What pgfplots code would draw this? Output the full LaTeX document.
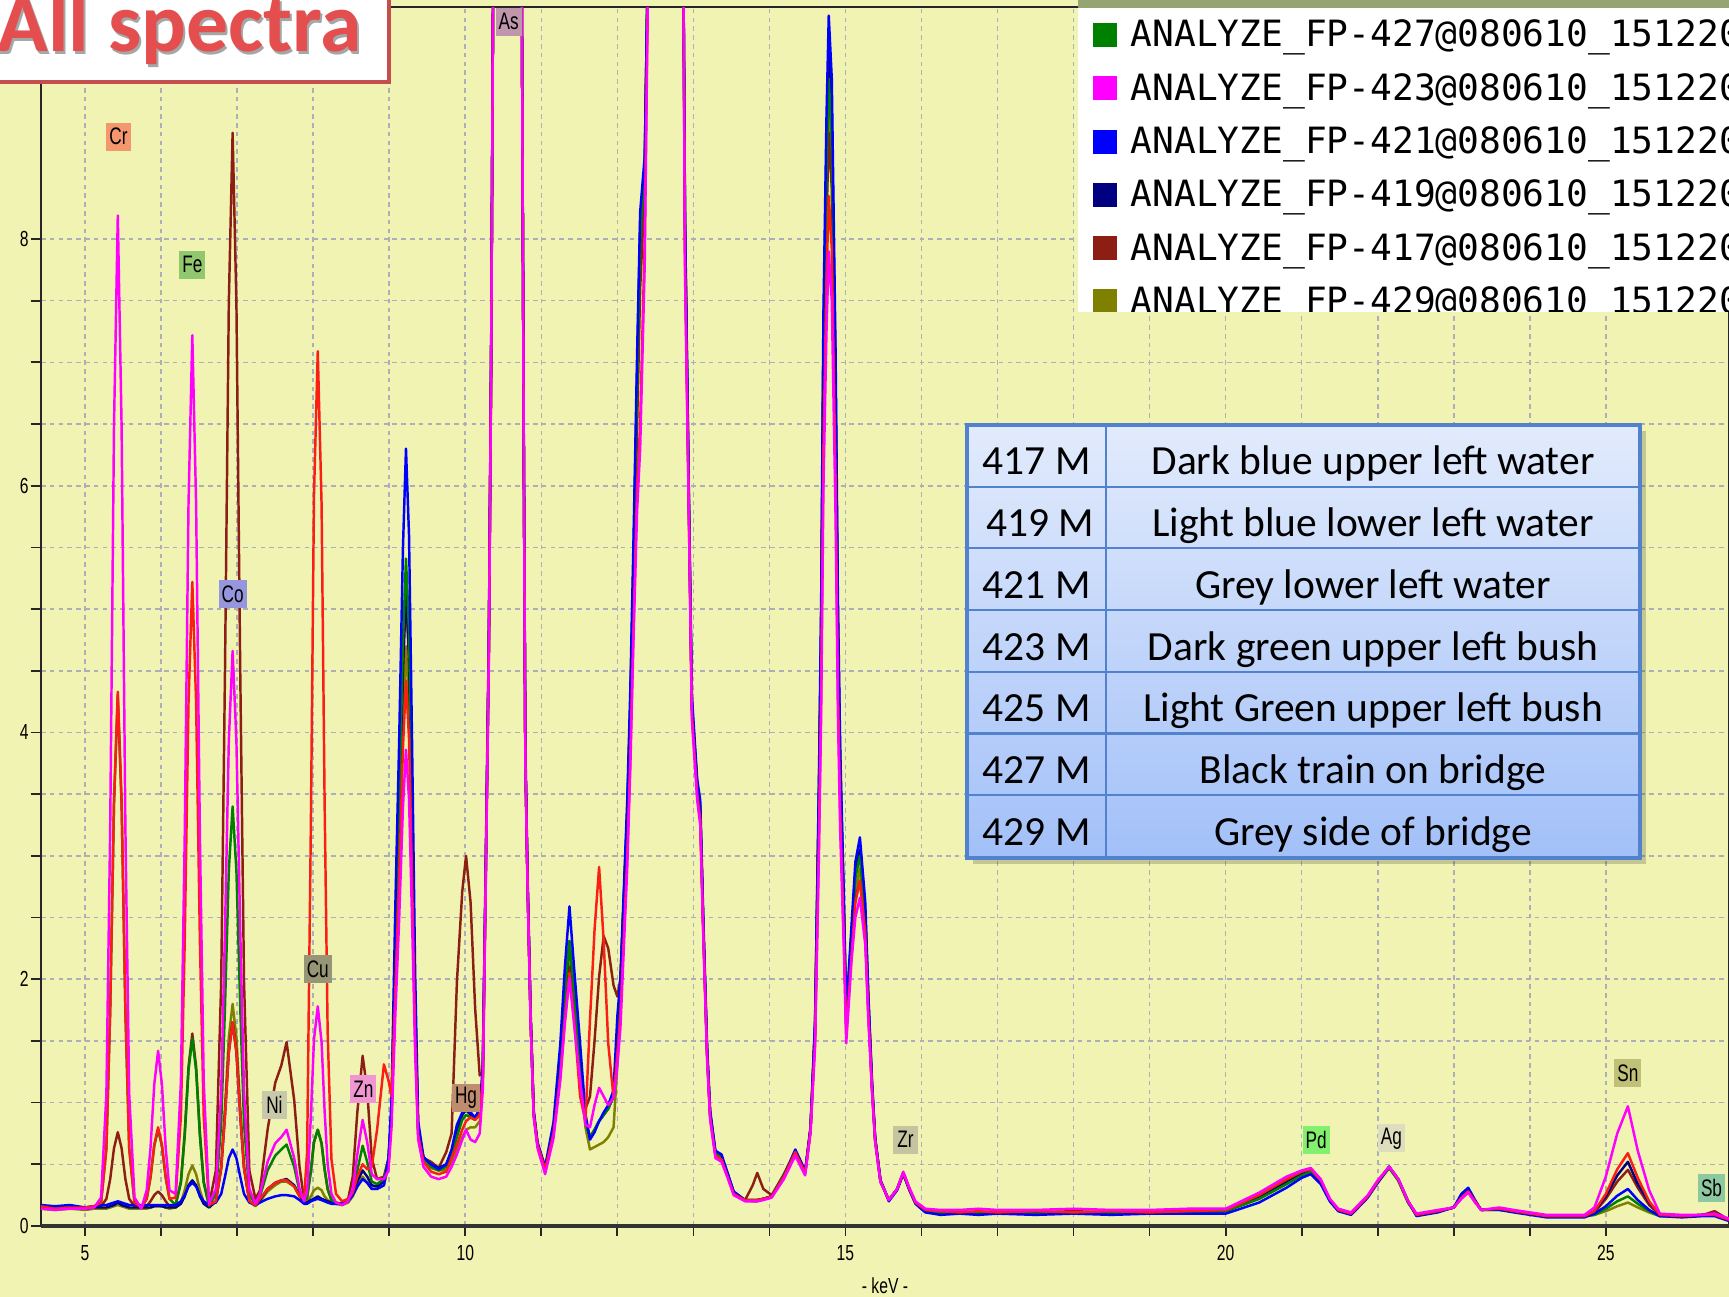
\documentclass[border=0pt]{standalone}
\usepackage{fontspec}
\setmainfont{Liberation Sans}
\newfontfamily\carlito{Carlito}
\newfontfamily\narrow[FakeStretch=0.72]{Liberation Sans}
\newfontfamily\legmono{DejaVu Sans Mono}
\usepackage{pgfplots}
\usepackage{pgfplotstable}
\pgfplotsset{compat=1.18}

\definecolor{bgc}{RGB}{240,243,178}
\definecolor{gridc}{RGB}{172,174,186}
\definecolor{s425}{RGB}{250,30,20}
\definecolor{s423}{RGB}{255,0,255}
\definecolor{s417}{RGB}{140,30,20}
\definecolor{s427}{RGB}{0,128,0}
\definecolor{s429}{RGB}{128,128,0}
\definecolor{s421}{RGB}{0,0,255}
\definecolor{s419}{RGB}{0,0,128}
\definecolor{titlered}{RGB}{196,78,78}
\definecolor{titletext}{RGB}{228,78,78}
\definecolor{legband}{RGB}{150,163,115}
\definecolor{tabtop}{RGB}{226,235,252}
\definecolor{tabbot}{RGB}{162,192,248}
\definecolor{tabline}{RGB}{82,130,206}
% element label fills
\definecolor{eCr}{RGB}{244,150,110}
\definecolor{eFe}{RGB}{145,200,110}
\definecolor{eCo}{RGB}{150,150,222}
\definecolor{eNi}{RGB}{200,200,170}
\definecolor{eCu}{RGB}{150,150,118}
\definecolor{eZn}{RGB}{240,150,210}
\definecolor{eHg}{RGB}{190,140,110}
\definecolor{eAs}{RGB}{192,150,172}
\definecolor{eZr}{RGB}{196,196,160}
\definecolor{ePd}{RGB}{130,240,110}
\definecolor{eAg}{RGB}{222,222,190}
\definecolor{eSn}{RGB}{192,192,120}
\definecolor{eSb}{RGB}{140,200,160}

\newcommand\tickfont{\narrow\fontsize{6.2}{7}\selectfont}
\newcommand\elfont{\narrow\fontsize{6.8}{7.5}\selectfont}
\tikzset{elab/.style={font=\elfont, inner sep=0.03cm, minimum height=0.28cm, minimum width=0.25cm, text=black}}

% columns: keV, then 425 (red), 423, 417, 427, 429, 421, 419
\pgfplotstableread{
x r m mr g o b n
4.42 0.16 0.14 0.15 0.15 0.14 0.17 0.15
4.60 0.14 0.13 0.14 0.15 0.13 0.16 0.14
4.80 0.15 0.14 0.15 0.14 0.14 0.17 0.15
5.00 0.15 0.14 0.14 0.15 0.13 0.15 0.14
5.12 0.16 0.15 0.15 0.16 0.14 0.16 0.15
5.21 0.19 0.23 0.16 0.19 0.14 0.17 0.15
5.28 0.63 1.07 0.22 0.63 0.14 0.17 0.15
5.33 1.75 3.22 0.38 1.74 0.15 0.18 0.16
5.38 3.44 6.48 0.63 3.42 0.16 0.19 0.17
5.43 4.33 8.19 0.76 4.30 0.17 0.20 0.19
5.48 3.44 6.48 0.63 3.42 0.16 0.19 0.17
5.53 1.75 3.22 0.38 1.74 0.15 0.18 0.16
5.58 0.63 1.07 0.22 0.63 0.14 0.17 0.15
5.65 0.19 0.23 0.16 0.19 0.14 0.17 0.15
5.74 0.15 0.14 0.15 0.15 0.14 0.17 0.15
5.81 0.22 0.29 0.16 0.22 0.14 0.17 0.15
5.86 0.40 0.63 0.20 0.39 0.15 0.17 0.15
5.91 0.66 1.15 0.25 0.65 0.16 0.17 0.16
5.96 0.80 1.42 0.28 0.78 0.16 0.17 0.16
6.01 0.66 1.15 0.25 0.65 0.16 0.17 0.16
6.06 0.40 0.63 0.20 0.39 0.15 0.17 0.15
6.11 0.22 0.29 0.16 0.22 0.14 0.17 0.15
6.19 0.23 0.26 0.17 0.17 0.15 0.17 0.15
6.26 0.89 1.17 0.36 0.35 0.19 0.20 0.18
6.31 2.30 3.15 0.75 0.73 0.29 0.25 0.24
6.36 4.24 5.85 1.29 1.26 0.42 0.32 0.33
6.41 5.22 7.22 1.56 1.52 0.49 0.35 0.37
6.46 4.24 5.85 1.29 1.26 0.42 0.32 0.33
6.51 2.30 3.15 0.75 0.73 0.29 0.25 0.24
6.56 0.89 1.17 0.36 0.35 0.19 0.20 0.18
6.63 0.17 0.18 0.17 0.16 0.15 0.17 0.15
6.72 0.20 0.30 0.45 0.26 0.20 0.19 0.20
6.79 0.47 1.09 1.98 0.83 0.49 0.26 0.47
6.84 0.90 2.40 4.51 1.78 0.97 0.40 0.90
6.89 1.41 3.93 7.48 2.88 1.53 0.55 1.41
6.94 1.65 4.66 8.86 3.40 1.80 0.62 1.65
6.99 1.41 3.93 7.48 2.88 1.53 0.55 1.41
7.04 0.90 2.40 4.51 1.78 0.97 0.40 0.90
7.09 0.47 1.09 1.98 0.83 0.49 0.26 0.47
7.16 0.20 0.30 0.45 0.26 0.20 0.19 0.20
7.24 0.17 0.18 0.22 0.17 0.16 0.17 0.17
7.30 0.22 0.26 0.29 0.24 0.20 0.19 0.21
7.40 0.30 0.52 0.78 0.45 0.28 0.22 0.30
7.50 0.35 0.67 1.16 0.57 0.33 0.24 0.35
7.58 0.37 0.72 1.30 0.62 0.36 0.25 0.37
7.65 0.37 0.78 1.49 0.66 0.36 0.25 0.38
7.75 0.32 0.55 1.02 0.48 0.32 0.24 0.33
7.82 0.24 0.30 0.48 0.28 0.24 0.21 0.25
7.88 0.22 0.20 0.21 0.20 0.19 0.18 0.19
7.92 0.60 0.28 0.24 0.23 0.20 0.18 0.19
7.97 3.30 0.90 0.45 0.45 0.24 0.20 0.21
8.01 5.92 1.51 0.68 0.68 0.29 0.21 0.22
8.06 7.09 1.78 0.78 0.78 0.31 0.22 0.24
8.11 5.85 1.49 0.67 0.67 0.29 0.21 0.22
8.15 3.43 0.93 0.46 0.46 0.24 0.20 0.21
8.19 1.57 0.50 0.30 0.30 0.21 0.19 0.20
8.24 0.54 0.26 0.21 0.21 0.19 0.18 0.19
8.30 0.26 0.19 0.19 0.19 0.18 0.18 0.18
8.38 0.20 0.17 0.18 0.17 0.17 0.18 0.18
8.46 0.22 0.20 0.22 0.20 0.19 0.20 0.21
8.52 0.27 0.30 0.40 0.28 0.24 0.25 0.27
8.58 0.40 0.58 0.92 0.45 0.32 0.32 0.36
8.65 0.50 0.86 1.38 0.65 0.40 0.38 0.45
8.71 0.46 0.68 1.10 0.52 0.35 0.35 0.40
8.77 0.48 0.42 0.55 0.36 0.30 0.30 0.33
8.84 0.78 0.38 0.38 0.34 0.30 0.30 0.32
8.93 1.31 0.38 0.40 0.38 0.33 0.33 0.36
8.99 1.18 0.45 0.55 0.52 0.48 0.55 0.52
9.03 1.05 0.80 0.92 0.94 0.88 1.02 0.92
9.08 1.91 1.71 2.17 2.27 2.01 2.59 2.19
9.13 2.81 2.48 3.23 3.40 2.98 3.92 3.27
9.18 3.87 3.39 4.48 4.72 4.11 5.49 4.54
9.22 4.42 3.86 5.13 5.41 4.70 6.30 5.20
9.26 3.95 3.46 4.57 4.82 4.20 5.60 4.64
9.30 2.81 2.48 3.23 3.40 2.98 3.92 3.27
9.34 1.56 1.41 1.75 1.83 1.63 2.07 1.77
9.38 0.74 0.70 0.78 0.79 0.75 0.85 0.78
9.45 0.52 0.48 0.55 0.55 0.54 0.56 0.55
9.55 0.44 0.40 0.52 0.48 0.47 0.50 0.50
9.65 0.42 0.38 0.47 0.45 0.45 0.46 0.47
9.75 0.44 0.40 0.60 0.48 0.45 0.50 0.50
9.82 0.55 0.48 0.75 0.58 0.52 0.62 0.60
9.89 0.66 0.58 1.98 0.72 0.62 0.82 0.78
9.96 0.78 0.70 2.71 0.86 0.72 0.92 0.90
10.01 0.85 0.78 3.00 0.90 0.78 0.95 0.94
10.07 0.88 0.70 2.62 0.88 0.80 0.92 0.90
10.13 0.86 0.68 1.76 0.86 0.80 0.88 0.88
10.19 0.90 0.75 1.22 0.92 0.85 0.95 0.94
10.23 1.20 1.10 1.25 1.20 1.15 1.30 1.22
10.27 2.90 2.80 2.90 2.90 2.85 3.00 2.90
10.31 4.70 4.60 4.70 4.70 4.65 4.80 4.70
10.34 7.00 6.90 7.00 7.00 6.95 7.10 7.00
10.37 10.5 10.5 10.5 10.5 10.5 10.5 10.5
10.56 20.0 20.0 20.0 20.0 20.0 20.0 20.0
10.74 10.5 10.5 10.5 10.5 10.5 10.5 10.5
10.77 6.20 6.15 6.20 6.20 6.20 6.30 6.20
10.79 3.80 3.75 3.80 3.80 3.80 3.90 3.80
10.82 2.75 2.70 2.75 2.75 2.75 2.80 2.75
10.86 1.67 1.62 1.67 1.67 1.67 1.72 1.67
10.90 0.91 0.88 0.91 0.91 0.91 0.94 0.91
10.95 0.66 0.63 0.66 0.66 0.66 0.68 0.66
11.05 0.46 0.42 0.46 0.47 0.46 0.48 0.46
11.16 0.75 0.71 0.76 0.79 0.77 0.84 0.79
11.25 1.22 1.18 1.25 1.35 1.30 1.48 1.35
11.31 1.68 1.64 1.72 1.88 1.80 2.10 1.88
11.37 2.05 2.01 2.10 2.31 2.20 2.59 2.31
11.43 1.68 1.64 1.72 1.88 1.80 2.10 1.88
11.51 1.05 1.18 1.25 1.35 1.30 1.48 1.35
11.58 0.85 0.82 0.95 0.85 0.80 0.91 0.85
11.64 1.67 0.80 1.05 0.72 0.62 0.70 0.72
11.70 2.40 0.98 1.50 0.78 0.64 0.76 0.78
11.76 2.91 1.12 2.02 0.85 0.66 0.85 0.85
11.82 2.31 1.05 2.35 0.90 0.68 0.92 0.90
11.88 1.48 0.98 2.25 0.95 0.72 0.98 0.95
11.95 1.04 1.04 1.95 1.05 0.80 1.10 1.05
12.00 1.40 1.30 1.86 1.55 1.30 1.70 1.55
12.04 1.70 1.60 2.00 1.95 1.80 2.00 1.95
12.13 3.00 2.90 3.30 3.35 3.20 3.45 3.35
12.17 3.80 3.70 4.10 4.20 4.00 4.34 4.20
12.21 4.80 4.70 5.10 5.30 5.10 5.49 5.30
12.26 6.00 5.80 6.50 6.80 6.60 7.08 6.90
12.30 6.50 6.30 7.60 8.00 7.80 8.22 8.10
12.36 8.00 7.80 8.40 8.60 8.50 8.67 8.60
12.42 11.0 11.0 11.0 11.0 11.0 11.0 11.0
12.65 14.0 14.0 14.0 14.0 14.0 14.0 14.0
12.86 11.0 11.0 11.0 11.0 11.0 11.0 11.0
12.89 7.80 7.70 8.00 8.10 8.00 8.20 8.10
12.94 5.80 5.75 5.85 5.90 5.85 5.95 5.90
12.98 4.15 4.10 4.20 4.22 4.20 4.30 4.22
13.05 3.50 3.45 3.55 3.58 3.55 3.62 3.58
13.09 3.30 3.25 3.35 3.39 3.35 3.45 3.39
13.13 2.38 2.35 2.42 2.44 2.42 2.50 2.44
13.18 1.38 1.35 1.40 1.42 1.40 1.46 1.42
13.22 0.88 0.86 0.90 0.91 0.90 0.94 0.91
13.29 0.57 0.55 0.58 0.59 0.58 0.61 0.59
13.37 0.54 0.52 0.55 0.56 0.55 0.58 0.56
13.45 0.40 0.39 0.41 0.42 0.41 0.43 0.42
13.53 0.26 0.25 0.27 0.27 0.27 0.28 0.27
13.68 0.21 0.20 0.21 0.21 0.21 0.21 0.21
13.78 0.21 0.20 0.33 0.21 0.20 0.21 0.21
13.84 0.21 0.20 0.43 0.21 0.20 0.21 0.21
13.92 0.22 0.21 0.30 0.22 0.22 0.22 0.22
14.03 0.24 0.23 0.25 0.24 0.24 0.24 0.24
14.19 0.40 0.38 0.42 0.41 0.40 0.40 0.41
14.34 0.60 0.57 0.61 0.60 0.60 0.62 0.60
14.47 0.43 0.41 0.44 0.43 0.43 0.45 0.43
14.54 0.78 0.75 0.78 0.78 0.78 0.80 0.78
14.60 1.50 1.45 1.56 1.61 1.57 1.67 1.63
14.65 3.11 2.97 3.28 3.42 3.32 3.58 3.48
14.68 4.34 4.12 4.58 4.79 4.65 5.04 4.89
14.71 6.31 5.98 6.69 7.01 6.79 7.39 7.16
14.75 7.65 7.24 8.12 8.52 8.24 8.98 8.70
14.78 8.35 7.90 8.86 9.30 9.00 9.81 9.50
14.82 7.92 7.50 8.41 8.82 8.54 9.30 9.01
14.87 6.06 5.74 6.41 6.72 6.51 7.08 6.87
14.90 4.39 4.17 4.64 4.85 4.71 5.10 4.95
14.93 3.37 3.21 3.56 3.71 3.61 3.90 3.79
14.98 2.31 2.21 2.42 2.51 2.45 2.63 2.56
15.01 1.55 1.48 1.60 1.65 1.62 1.73 1.68
15.08 2.20 2.15 2.25 2.35 2.30 2.44 2.38
15.13 2.62 2.50 2.65 2.82 2.72 2.95 2.86
15.19 2.80 2.66 2.80 3.00 2.90 3.15 3.05
15.26 2.38 2.28 2.38 2.52 2.45 2.63 2.56
15.30 1.74 1.68 1.74 1.83 1.78 1.89 1.85
15.35 1.10 1.08 1.10 1.13 1.12 1.16 1.14
15.39 0.70 0.68 0.70 0.71 0.70 0.72 0.71
15.46 0.36 0.36 0.36 0.37 0.36 0.37 0.37
15.57 0.21 0.21 0.21 0.21 0.21 0.20 0.21
15.68 0.30 0.30 0.30 0.30 0.30 0.29 0.30
15.76 0.43 0.44 0.43 0.43 0.43 0.42 0.43
15.84 0.30 0.31 0.30 0.30 0.30 0.29 0.30
15.92 0.19 0.20 0.19 0.19 0.19 0.18 0.19
16.05 0.13 0.14 0.13 0.12 0.12 0.11 0.12
16.25 0.12 0.13 0.11 0.11 0.11 0.09 0.11
16.50 0.11 0.13 0.12 0.10 0.11 0.10 0.11
16.75 0.12 0.14 0.11 0.11 0.10 0.09 0.11
17.00 0.11 0.13 0.12 0.11 0.11 0.10 0.10
17.50 0.12 0.13 0.11 0.10 0.11 0.09 0.11
18.00 0.11 0.14 0.12 0.11 0.10 0.10 0.11
18.50 0.12 0.13 0.11 0.11 0.11 0.09 0.10
19.00 0.11 0.13 0.12 0.10 0.11 0.10 0.11
19.50 0.12 0.14 0.12 0.11 0.11 0.10 0.11
20.00 0.13 0.14 0.13 0.12 0.12 0.10 0.12
20.44 0.25 0.27 0.24 0.22 0.22 0.19 0.23
20.80 0.38 0.40 0.37 0.34 0.34 0.31 0.35
21.00 0.44 0.45 0.43 0.41 0.41 0.39 0.42
21.12 0.46 0.47 0.455 0.44 0.44 0.42 0.45
21.25 0.37 0.38 0.36 0.35 0.35 0.34 0.36
21.37 0.22 0.22 0.21 0.21 0.21 0.20 0.21
21.48 0.13 0.14 0.13 0.13 0.13 0.12 0.13
21.65 0.10 0.11 0.10 0.10 0.10 0.09 0.10
21.87 0.24 0.25 0.24 0.24 0.24 0.23 0.24
22.00 0.36 0.37 0.36 0.35 0.36 0.35 0.36
22.15 0.48 0.48 0.48 0.47 0.47 0.48 0.48
22.27 0.38 0.38 0.37 0.37 0.37 0.38 0.38
22.40 0.20 0.20 0.19 0.19 0.19 0.20 0.20
22.51 0.09 0.10 0.09 0.09 0.09 0.08 0.09
22.79 0.12 0.13 0.12 0.12 0.12 0.11 0.12
23.00 0.15 0.15 0.15 0.15 0.15 0.15 0.15
23.10 0.23 0.22 0.23 0.23 0.23 0.26 0.24
23.19 0.28 0.27 0.28 0.28 0.28 0.31 0.30
23.28 0.20 0.19 0.20 0.20 0.20 0.21 0.20
23.36 0.13 0.13 0.13 0.13 0.13 0.13 0.13
23.60 0.14 0.15 0.14 0.13 0.14 0.13 0.14
23.79 0.12 0.13 0.12 0.12 0.12 0.11 0.12
24.22 0.08 0.09 0.08 0.08 0.08 0.07 0.08
24.72 0.08 0.09 0.08 0.08 0.08 0.07 0.08
24.85 0.12 0.15 0.11 0.09 0.09 0.10 0.12
25.00 0.26 0.40 0.22 0.14 0.12 0.16 0.24
25.15 0.46 0.75 0.36 0.20 0.16 0.245 0.41
25.29 0.59 0.97 0.455 0.24 0.19 0.30 0.52
25.42 0.39 0.61 0.31 0.18 0.15 0.21 0.34
25.57 0.20 0.29 0.17 0.12 0.11 0.13 0.19
25.71 0.09 0.10 0.09 0.08 0.08 0.08 0.09
26.00 0.08 0.09 0.08 0.08 0.08 0.07 0.08
26.28 0.09 0.09 0.09 0.09 0.09 0.08 0.09
26.43 0.09 0.10 0.12 0.09 0.09 0.08 0.09
26.62 0.05 0.06 0.05 0.05 0.05 0.04 0.05
}\spec

\begin{document}
\begin{tikzpicture}
\useasboundingbox (0,0) rectangle (17.29,12.97);
\clip (0,0) rectangle (17.29,12.97);
\fill[bgc] (0,0) rectangle (17.29,12.97);

\begin{axis}[
  at={(0.41cm,0.71cm)}, anchor=south west,
  scale only axis, width=16.88cm, height=12.19cm,
  xmin=4.42, xmax=26.62, ymin=0, ymax=9.88,
  axis line style={draw=black!85, line width=0.7pt},
  xtick={5,10,15,20,25}, ytick={0,2,4,6,8},
  minor x tick num=4, minor y tick num=3,
  grid=both,
  grid style={draw=gridc, dash pattern=on 1.3pt off 1.2pt, line width=0.45pt},
  minor grid style={draw=gridc, dash pattern=on 1.3pt off 1.2pt, line width=0.45pt},
  tick pos=left, tick align=outside,
  major tick length=0.1cm, minor tick length=0.1cm,
  tick style={draw=black!85, line width=0.5pt},
  /pgf/number format/assume math mode=true,
  xticklabel style={font=\tickfont},
  xticklabel shift={-0.03cm},
  yticklabel style={font=\tickfont},
  yticklabel shift={-0.1cm},
  xlabel={- keV -},
  xlabel style={font=\tickfont, at={(axis description cs:0.5,0)}, anchor=center, yshift=-0.6cm},
  every axis plot/.append style={line width=0.7pt, line join=round},
]
\addplot[s429] table[x=x, y=o]  {\spec};
\addplot[s417] table[x=x, y=mr] {\spec};
\addplot[s419] table[x=x, y=n]  {\spec};
\addplot[s427] table[x=x, y=g]  {\spec};
\addplot[s421] table[x=x, y=b]  {\spec};
\addplot[s425] table[x=x, y=r]  {\spec};
\addplot[s423] table[x=x, y=m]  {\spec};

\node[elab, fill=eCr] at (axis cs:5.44,8.83) {Cr};
\node[elab, fill=eFe] at (axis cs:6.41,7.79) {Fe};
\node[elab, fill=eCo] at (axis cs:6.94,5.12) {Co};
\node[elab, fill=eNi] at (axis cs:7.49,0.98) {Ni};
\node[elab, fill=eCu] at (axis cs:8.06,2.08) {Cu};
\node[elab, fill=eZn] at (axis cs:8.66,1.11) {Zn};
\node[elab, fill=eHg] at (axis cs:10.01,1.04) {Hg};
\node[elab, fill=eAs] at (axis cs:10.57,9.76) {As};
\node[elab, fill=eZr] at (axis cs:15.79,0.70) {Zr};
\node[elab, fill=ePd] at (axis cs:21.19,0.70) {Pd};
\node[elab, fill=eAg] at (axis cs:22.18,0.71) {Ag};
\node[elab, fill=eSn] at (axis cs:25.29,1.24) {Sn};
\node[elab, fill=eSb] at (axis cs:26.39,0.31) {Sb};
\end{axis}

% heavy bottom axis line
\draw[black!80, line width=1.2pt] (0.41,0.71) -- (17.29,0.71);

% title box
\fill[white] (-0.1,12.15) rectangle (3.89,13.1);
\draw[titlered, line width=1.2pt] (-0.1,12.15) rectangle (3.89,13.1);
\node[anchor=base west, inner sep=0, text=black!35] at (-0.01,12.42)
  {\carlito\bfseries\fontsize{23.8}{26}\selectfont All spectra};
\node[anchor=base west, inner sep=0, text=titletext] at (-0.03,12.45)
  {\carlito\bfseries\fontsize{23.8}{26}\selectfont All spectra};

% legend (cut off by the window)
\begin{scope}
\clip (10.78,9.85) rectangle (17.29,13);
\fill[white] (10.78,9.85) rectangle (17.4,13.0);
\fill[legband] (10.78,12.89) rectangle (17.4,13.0);
\fill[s427] (10.93,12.50) rectangle (11.17,12.74);
\fill[s423] (10.93,11.967) rectangle (11.17,12.207);
\fill[s421] (10.93,11.434) rectangle (11.17,11.674);
\fill[s419] (10.93,10.901) rectangle (11.17,11.141);
\fill[s417] (10.93,10.368) rectangle (11.17,10.608);
\fill[s429] (10.93,9.835) rectangle (11.17,10.075);
\begin{scope}[every node/.style={anchor=base west, inner sep=0, font=\legmono\fontsize{10.3}{12}\selectfont}]
\node at (11.30,12.500) {ANALYZE\_FP-427@080610\_151220};
\node at (11.30,11.967) {ANALYZE\_FP-423@080610\_151220};
\node at (11.30,11.434) {ANALYZE\_FP-421@080610\_151220};
\node at (11.30,10.901) {ANALYZE\_FP-419@080610\_151220};
\node at (11.30,10.368) {ANALYZE\_FP-417@080610\_151220};
\node at (11.30,9.835)  {ANALYZE\_FP-429@080610\_151220};
\end{scope}
\end{scope}

% sample table
\fill[black, opacity=0.18] (9.73,4.33) rectangle (16.46,8.66);
\shade[top color=tabtop, bottom color=tabbot] (9.67,4.39) rectangle (16.40,8.72);
\foreach \yy in {8.103,7.486,6.869,6.252,5.635,5.018}
  \draw[tabline, line width=0.6pt] (9.67,\yy) -- (16.40,\yy);
\draw[tabline, line width=0.6pt] (11.06,4.39) -- (11.06,8.72);
\draw[tabline, line width=1pt] (9.67,4.39) rectangle (16.40,8.72);
\begin{scope}[every node/.style={anchor=base, inner sep=0, font=\carlito\fontsize{11.8}{14}\selectfont}]
\node at (10.365,8.220) {417 M}; \node at (13.73,8.220) {Dark blue upper left water};
\node at (10.40,7.603) {419 M};  \node at (13.73,7.603) {Light blue lower left water};
\node at (10.365,6.986) {421 M}; \node at (13.73,6.986) {Grey lower left water};
\node at (10.365,6.369) {423 M}; \node at (13.73,6.369) {Dark green upper left bush};
\node at (10.365,5.752) {425 M}; \node at (13.73,5.752) {Light Green upper left bush};
\node at (10.365,5.135) {427 M}; \node at (13.73,5.135) {Black train on bridge};
\node at (10.365,4.518) {429 M}; \node at (13.73,4.518) {Grey side of bridge};
\end{scope}
\end{tikzpicture}
\end{document}
